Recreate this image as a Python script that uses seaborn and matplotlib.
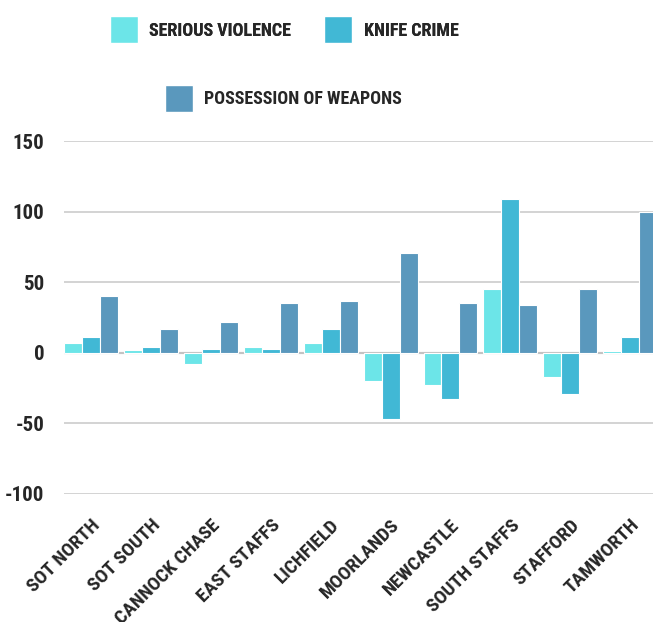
import pandas as pd
import matplotlib.pyplot as plt
import seaborn as sns
from matplotlib.patches import Patch

# values
areas = ['SOT NORTH', 'SOT SOUTH', 'CANNOCK CHASE', 'EAST STAFFS', 'LICHFIELD',
         'MOORLANDS', 'NEWCASTLE', 'SOUTH STAFFS', 'STAFFORD', 'TAMWORTH']
serious_violence = [7, 2, -8, 4, 7, -20, -23, 45, -17, 1]
knife_crime = [11, 4, 3, 3, 17, -47, -33, 109, -29, 11]
possession_weapons = [40, 17, 22, 35, 37, 71, 35, 34, 45, 100]
series = ['SERIOUS VIOLENCE', 'KNIFE CRIME', 'POSSESSION OF WEAPONS']
colors = ['#6ce5e8', '#41b8d5', '#5a98bd']
yticks = [-100, -50, 0, 50, 100, 150]

df = pd.DataFrame({'area': areas * 3,
                   'series': [s for s in series for _ in areas],
                   'value': serious_violence + knife_crime + possession_weapons})

sns.set_style('white')
plt.rcParams['font.family'] = ['Roboto Condensed', 'DejaVu Sans']
plt.rcParams['font.stretch'] = 'condensed'
plt.rcParams['axes.unicode_minus'] = False

fig = plt.figure(figsize=(6.53, 6.22), dpi=100)
ax = fig.add_axes([0.098, 0.206, 0.902, 0.567])

sns.barplot(data=df, x='area', y='value', hue='series', palette=colors,
            saturation=1, width=0.9, edgecolor='white', linewidth=0.8,
            ax=ax, legend=False)

ax.set_xlim(-0.45, 9.38)
ax.set_ylim(-100, 150)
ax.set_yticks(yticks)
ax.yaxis.grid(True, color='#cccccc', linewidth=1.2)
ax.set_axisbelow(True)
ax.axhline(0, color='#999999', linewidth=1.5, zorder=0.5)
for s in ax.spines.values():
    s.set_visible(False)
ax.set_xlabel('')
ax.set_ylabel('')
ax.tick_params(axis='y', labelsize=15, pad=14, length=0)
ax.tick_params(axis='x', labelsize=14, length=0, pad=16)
plt.setp(ax.get_xticklabels(), rotation=45, ha='right', rotation_mode='anchor',
         fontweight='bold')
plt.setp(ax.get_yticklabels(), fontweight='bold')

# legend: two items on the first row, the third centred below
handles = [Patch(facecolor=c, edgecolor='white') for c in colors]
leg_kw = dict(loc='center', frameon=False, prop={'size': 13, 'weight': 'bold'},
              handlelength=1.55, handleheight=1.9, handletextpad=0.65)
leg1 = fig.legend(handles[:2], series[:2], ncol=2,
                  bbox_to_anchor=(0.435, 0.952), columnspacing=1.8, **leg_kw)
fig.add_artist(leg1)
fig.legend(handles[2:], series[2:], bbox_to_anchor=(0.434, 0.842), **leg_kw)

fig.savefig('out.png', dpi=100)
